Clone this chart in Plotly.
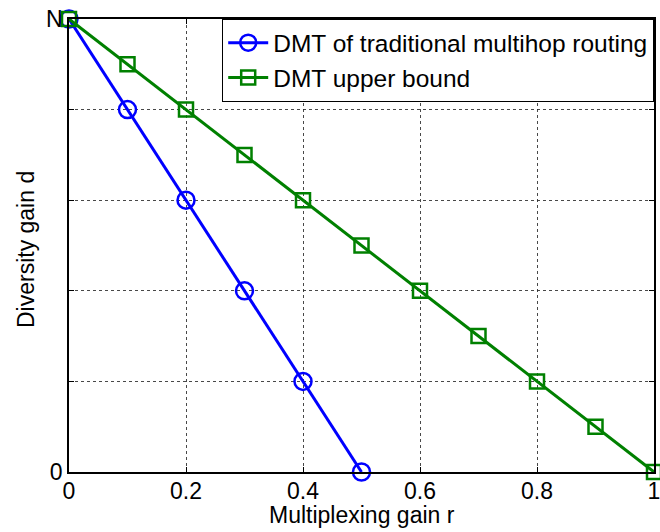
import plotly.graph_objects as go

# Data (diversity gain in units of N/5)
r_trad = [0.0, 0.1, 0.2, 0.3, 0.4, 0.5]
d_trad = [5, 4, 3, 2, 1, 0]
r_ub = [0.0, 0.1, 0.2, 0.3, 0.4, 0.5, 0.6, 0.7, 0.8, 0.9, 1.0]
d_ub = [5, 4.5, 4, 3.5, 3, 2.5, 2, 1.5, 1, 0.5, 0]

x_ticks = [0, 0.2, 0.4, 0.6, 0.8, 1]
x_ticktext = ["0", "0.2", "0.4", "0.6", "0.8", "1"]
y_ticks = [0, 1, 2, 3, 4, 5]
y_ticktext = ["0", "", "", "", "", "N"]

name_trad = "DMT of traditional multihop routing"
name_ub = "DMT upper bound"
x_title = "Multiplexing gain r"
y_title = "Diversity gain d"

FONT = "Liberation Sans, Arial, sans-serif"

fig = go.Figure()
fig.add_trace(go.Scatter(
    x=r_trad, y=d_trad, name=name_trad, mode="lines+markers",
    line=dict(color="#0000FF", width=3),
    marker=dict(symbol="circle-open", size=17, color="#0000FF", line=dict(width=2.5, color="#0000FF")),
    cliponaxis=False,
))
fig.add_trace(go.Scatter(
    x=r_ub, y=d_ub, name=name_ub, mode="lines+markers",
    line=dict(color="#008000", width=3),
    marker=dict(symbol="square-open", size=14, color="#008000", line=dict(width=2.5, color="#008000")),
    cliponaxis=False,
))

axis_common = dict(
    showline=True, linecolor="black", linewidth=1.5, mirror="ticks",
    ticks="inside", ticklen=5, tickcolor="black", tickwidth=1,
    showgrid=True, gridcolor="rgba(40,40,40,0.85)", griddash="dot", gridwidth=1,
    zeroline=False, automargin=False, ticklabeloverflow="allow",
    tickfont=dict(family=FONT, size=23, color="black"),
)

fig.update_xaxes(range=[0, 1], tickvals=x_ticks, ticktext=x_ticktext,
                 ticklabelstandoff=-2, **axis_common)
fig.update_yaxes(range=[0, 5], tickvals=y_ticks, ticktext=y_ticktext, **axis_common)

fig.update_layout(
    width=660, height=532,
    margin=dict(l=69, r=6, t=19, b=60, autoexpand=False),
    paper_bgcolor="white", plot_bgcolor="white",
    font=dict(family=FONT, color="black"),
    showlegend=True,
    legend=dict(
        x=1.0, y=1.0, xanchor="right", yanchor="top",
        bgcolor="white", bordercolor="black", borderwidth=1.2,
        font=dict(family=FONT, size=24.5, color="black"),
        tracegroupgap=0, itemwidth=40,
    ),
    annotations=[
        dict(text=x_title, xref="paper", yref="paper", x=0.5, y=-0.096,
             xanchor="center", yanchor="middle", showarrow=False,
             font=dict(family=FONT, size=23, color="black")),
        dict(text=y_title, xref="paper", yref="paper", x=-0.0735, y=0.49,
             xanchor="center", yanchor="middle", showarrow=False, textangle=-90,
             font=dict(family=FONT, size=23, color="black")),
    ],
)

fig.write_html("out.html")
